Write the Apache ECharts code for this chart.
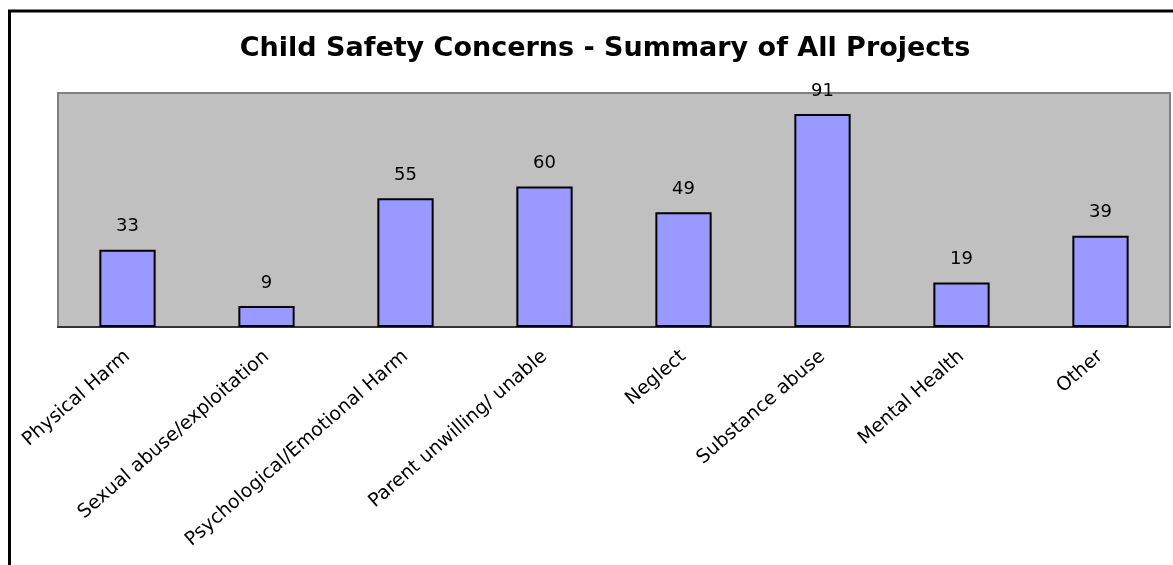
<!DOCTYPE html>
<html>
<head>
<meta charset="utf-8">
<script src="https://cdn.jsdelivr.net/npm/echarts@6/dist/echarts.min.js"></script>
<style>
html, body { margin: 0; padding: 0; background: #fff; }
#chart { width: 1173px; height: 565px; }
</style>
</head>
<body>
<div id="chart"></div>
<script>
const categories = [
  'Physical Harm',
  'Sexual abuse/exploitation',
  'Psychological/Emotional Harm',
  'Parent unwilling/ unable',
  'Neglect',
  'Substance abuse',
  'Mental Health',
  'Other'
];
const counts = [33, 9, 55, 60, 49, 91, 19, 39];
const titleText = 'Child Safety Concerns - Summary of All Projects';

const FONT = '"DejaVu Sans", "Liberation Sans", Arial, sans-serif';

const chart = echarts.init(document.getElementById('chart'), null, { renderer: 'canvas' });
chart.setOption({
  backgroundColor: '#ffffff',
  animation: false,
  title: {
    text: titleText,
    left: 600,
    top: 30,
    textAlign: 'center',
    textStyle: {
      fontFamily: FONT,
      fontSize: 27,
      fontWeight: 'bold',
      color: '#000'
    }
  },
  graphic: [{
    type: 'rect',
    shape: { x: 9.5, y: 11, width: 1200, height: 600 },
    style: { fill: 'none', stroke: '#000', lineWidth: 3 },
    z: 100
  }],
  grid: {
    left: 58,
    top: 93,
    right: 3,
    bottom: 238,
    show: true,
    backgroundColor: '#C0C0C0',
    borderColor: '#808080',
    borderWidth: 2
  },
  xAxis: {
    type: 'category',
    data: categories,
    axisLine: { show: true, lineStyle: { color: '#333', width: 2 } },
    axisTick: { show: false },
    axisLabel: {
      rotate: 41,
      margin: 27,
      interval: 0,
      fontFamily: FONT,
      fontSize: 19,
      color: '#000'
    }
  },
  yAxis: {
    type: 'value',
    min: 0,
    max: 100,
    show: false,
    splitLine: { show: false }
  },
  series: [{
    type: 'bar',
    data: counts,
    barWidth: '40.5%',
    itemStyle: { color: '#9999FF', borderColor: '#000', borderWidth: 2 },
    label: {
      show: true,
      position: 'top',
      distance: 14,
      fontFamily: FONT,
      fontSize: 18,
      color: '#000'
    }
  }]
});
</script>
</body>
</html>
